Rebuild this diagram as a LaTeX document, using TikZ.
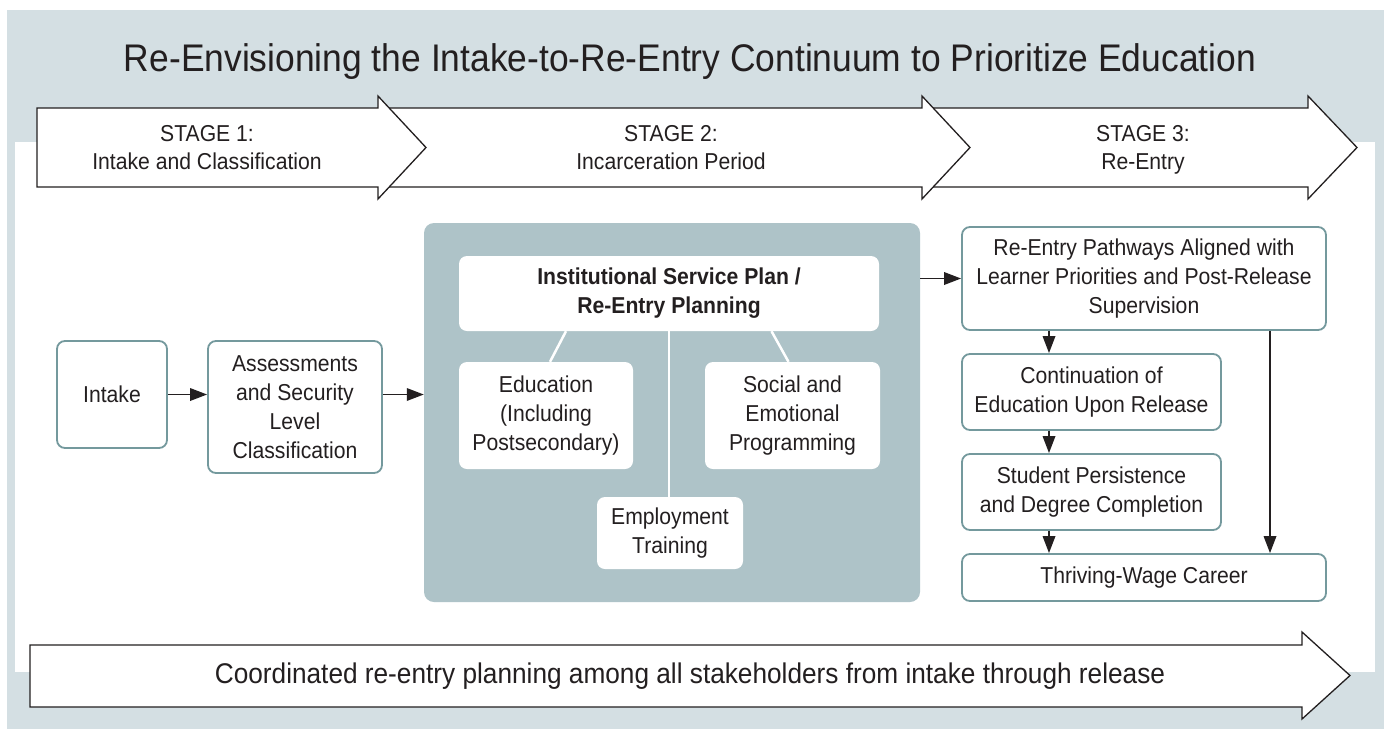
\documentclass[tikz,border=0pt]{standalone}
\usepackage{fontspec}
\setmainfont{Liberation Sans}[FakeStretch=0.92]
\usetikzlibrary{arrows.meta}

\definecolor{backblue}{HTML}{D4DFE3}
\definecolor{panelblue}{HTML}{AEC3C8}
\definecolor{boxline}{HTML}{74999D}
\definecolor{ink}{HTML}{231F20}

\tikzset{
	stagearrow/.style={draw=ink, fill=white, line width=1.3pt, line join=miter},
	stagetext/.style={align=center, text=ink, text depth=6pt, font=\fontsize{23}{28.5}\selectfont},
	box/.style={draw=boxline, fill=white, line width=1.8pt, rounded corners=8pt, align=center, text=ink, font=\fontsize{23}{29}\selectfont, inner sep=0pt},
	inbox/.style={fill=white, rounded corners=8pt, align=center, text=ink, font=\fontsize{23}{29}\selectfont, inner sep=0pt},
	conn/.style={draw=ink, line width=1.8pt, -{Triangle[length=17pt,width=12.5pt]}},
	link/.style={draw=white, line width=2.5pt},
}

\begin{document}
\begin{tikzpicture}[x=1pt, y=-1pt]
	\useasboundingbox (0, 0) rectangle (1384, 729);
	\fill[backblue] (7, 10) rectangle (1384, 729);
	\fill[white] (15, 142) rectangle (1375, 672);

	\node[text=ink, font=\fontsize{38.5}{46}\selectfont] (title) at (690, 62) {Re-Envisioning the Intake-to-Re-Entry Continuum to Prioritize Education};

	% stage arrows, drawn back to front
	\filldraw[stagearrow] (922, 108) -- (1308, 108) -- (1308, 96) -- (1357, 147.5) -- (1308, 199) -- (1308, 187) -- (922, 187);
	\filldraw[stagearrow] (378, 108) -- (922, 108) -- (922, 96) -- (970, 147.5) -- (922, 199) -- (922, 187) -- (378, 187);
	\filldraw[stagearrow] (37, 108) -- (378, 108) -- (378, 96) -- (426, 147.5) -- (378, 199) -- (378, 187) -- (37, 187) -- cycle;

	\node[stagetext] (stage1) at (207, 150.5) {STAGE 1:\\Intake and Classification};
	\node[stagetext] (stage2) at (671, 150.5) {STAGE 2:\\Incarceration Period};
	\node[stagetext] (stage3) at (1143, 150.5) {STAGE 3:\\Re-Entry};

	% stage 1
	\node[box, minimum width=110, minimum height=107] (intake) at (112, 394.5) {Intake};
	\node[box, minimum width=174, minimum height=132] (assess) at (295, 407) {Assessments\\and Security\\Level\\Classification};

	% stage 2
	\node[fill=panelblue, rounded corners=10pt, minimum width=496, minimum height=379] (panel) at (672, 412.5) {};
	\node[inbox, minimum width=420, minimum height=75, font=\fontsize{23}{29}\selectfont\bfseries] (plan) at (669, 293.5) {Institutional Service Plan /\\Re-Entry Planning};
	\node[inbox, minimum width=174, minimum height=107] (edu) at (546, 415.5) {Education\\(Including\\Postsecondary)};
	\node[inbox, minimum width=175, minimum height=107] (social) at (792.5, 415.5) {Social and\\Emotional\\Programming};
	\node[inbox, minimum width=146, minimum height=72] (employ) at (670, 533) {Employment\\Training};

	\draw[link] ([xshift=20pt]plan.south -| edu.north) -- ([xshift=4pt]edu.north);
	\draw[link] ([xshift=-21pt]plan.south -| social.north) -- ([xshift=-4pt]social.north);
	\draw[link] (plan.south) -- (plan.south |- employ.north);

	% stage 3
	\node[box, minimum width=364, minimum height=103] (path) at (1144, 278.5) {Re-Entry Pathways Aligned with\\Learner Priorities and Post-Release\\Supervision};
	\node[box, minimum width=259, minimum height=76] (cont) at (1091.5, 392) {Continuation of\\Education Upon Release};
	\node[box, minimum width=259, minimum height=76] (persist) at (1091.5, 492) {Student Persistence\\and Degree Completion};
	\node[box, minimum width=364, minimum height=47] (career) at (1144, 577.5) {Thriving-Wage Career};

	\coordinate (down) at (1049, 0);
	\coordinate (side) at (1270, 0);

	\draw[conn] (intake.east) -- (intake.east -| assess.west);
	\draw[conn] (assess.east |- intake.east) -- (panel.west |- intake.east);
	\draw[conn] (panel.east |- path.west) -- (path.west);
	\draw[conn] (path.south -| down) -- (cont.north -| down);
	\draw[conn] (cont.south -| down) -- (persist.north -| down);
	\draw[conn] (persist.south -| down) -- (career.north -| down);
	\draw[conn] (path.south -| side) -- (career.north -| side);

	% planning arrow along the bottom
	\filldraw[stagearrow] (30, 645) -- (1302, 645) -- (1302, 632) -- (1350, 675.5) -- (1302, 719) -- (1302, 707) -- (30, 707) -- cycle;
	\node[text=ink, font=\fontsize{28.5}{34}\selectfont] (shared) at (690, 676) {Coordinated re-entry planning among all stakeholders from intake through release};
\end{tikzpicture}
\end{document}
